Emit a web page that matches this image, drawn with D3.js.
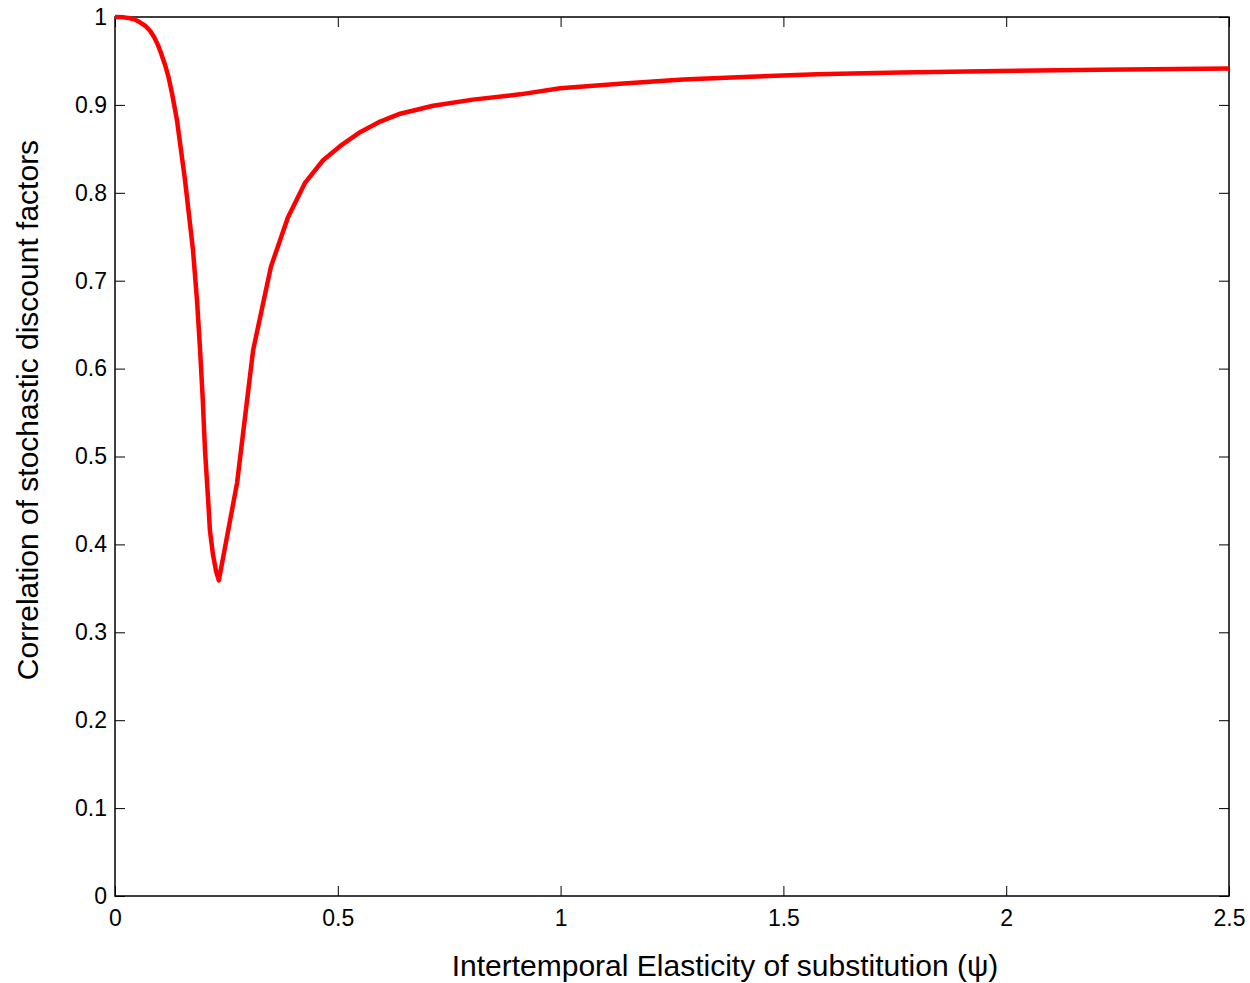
<!DOCTYPE html>
<html>
<head>
<meta charset="utf-8">
<script src="https://cdn.jsdelivr.net/npm/d3@7"></script>
<style>
  html, body { margin: 0; padding: 0; background: #fff; }
  svg { display: block; font-family: "Liberation Sans", Arial, sans-serif; }
</style>
</head>
<body>
<div id="chart"></div>
<script>
// values
const psi = [0, 0.02, 0.034, 0.045, 0.056, 0.068, 0.079, 0.088, 0.0965, 0.104, 0.112, 0.120, 0.128,
  0.139, 0.148, 0.157, 0.166, 0.175, 0.184, 0.191, 0.197, 0.202, 0.209, 0.213, 0.220, 0.227,
  0.233, 0.274, 0.310, 0.350, 0.388, 0.426, 0.467, 0.505, 0.550, 0.595, 0.640, 0.714, 0.803,
  0.909, 0.999, 1.133, 1.275, 1.425, 1.575, 1.762, 1.986, 2.21, 2.5];
const corr = [1.0, 0.9996, 0.9985, 0.997, 0.994, 0.990, 0.984, 0.977, 0.968, 0.958, 0.946, 0.932, 0.913,
  0.883, 0.849, 0.815, 0.775, 0.735, 0.678, 0.621, 0.564, 0.507, 0.451, 0.416, 0.388, 0.369,
  0.359, 0.470, 0.621, 0.716, 0.772, 0.811, 0.837, 0.853, 0.869, 0.881, 0.890, 0.899, 0.906,
  0.912, 0.919, 0.924, 0.929, 0.932, 0.935, 0.937, 0.9386, 0.940, 0.9414];
const xTicks = [0, 0.5, 1, 1.5, 2, 2.5];
const yTicks = [0, 0.1, 0.2, 0.3, 0.4, 0.5, 0.6, 0.7, 0.8, 0.9, 1];
const xLabel = "Intertemporal Elasticity of substitution (\u03C8)";
const yLabel = "Correlation of stochastic discount factors";

const width = 1250, height = 983;
const margin = { left: 115, top: 17, right: 21, bottom: 87 };
const innerW = width - margin.left - margin.right;
const innerH = height - margin.top - margin.bottom;
const tickLen = 10;
const tickFont = 23;

const x = d3.scaleLinear().domain([0, 2.5]).range([margin.left, margin.left + innerW]);
const y = d3.scaleLinear().domain([0, 1]).range([margin.top + innerH, margin.top]);

const svg = d3.create("svg")
  .attr("width", width)
  .attr("height", height);

const fmt = d => d3.format("~g")(d);

// bottom axis, ticks pointing inward
svg.append("g")
  .attr("transform", `translate(0,${margin.top + innerH})`)
  .call(d3.axisBottom(x).tickValues(xTicks).tickFormat(fmt).tickSizeInner(-tickLen).tickSizeOuter(0).tickPadding(14))
  .call(g => g.selectAll("text").attr("font-size", tickFont).attr("fill", "#000").attr("font-family", "Liberation Sans, Arial, sans-serif"));

// top axis, ticks only
svg.append("g")
  .attr("transform", `translate(0,${margin.top})`)
  .call(d3.axisTop(x).tickValues(xTicks).tickFormat("").tickSizeInner(-tickLen).tickSizeOuter(0));

// left axis
svg.append("g")
  .attr("transform", `translate(${margin.left},0)`)
  .call(d3.axisLeft(y).tickValues(yTicks).tickFormat(fmt).tickSizeInner(-tickLen).tickSizeOuter(0).tickPadding(8))
  .call(g => g.selectAll("text").attr("font-size", tickFont).attr("fill", "#000").attr("font-family", "Liberation Sans, Arial, sans-serif"));

// right axis, ticks only
svg.append("g")
  .attr("transform", `translate(${margin.left + innerW},0)`)
  .call(d3.axisRight(y).tickValues(yTicks).tickFormat("").tickSizeInner(-tickLen).tickSizeOuter(0));

svg.selectAll(".domain").remove();
svg.selectAll(".tick line").attr("stroke", "#000").attr("stroke-width", 1);

// box
svg.append("rect")
  .attr("x", margin.left)
  .attr("y", margin.top)
  .attr("width", innerW)
  .attr("height", innerH)
  .attr("fill", "none")
  .attr("stroke", "#000")
  .attr("stroke-width", 1.5);

// the curve
const line = d3.line()
  .x((d, i) => x(psi[i]))
  .y(d => y(d));

svg.append("path")
  .datum(corr)
  .attr("d", line)
  .attr("fill", "none")
  .attr("stroke", "#ff0000")
  .attr("stroke-width", 4.5)
  .attr("stroke-linejoin", "round");

// axis labels
svg.append("text")
  .attr("x", 725)
  .attr("y", 976)
  .attr("text-anchor", "middle")
  .attr("font-size", 30)
  .text(xLabel);

svg.append("text")
  .attr("transform", `translate(38,410) rotate(-90)`)
  .attr("text-anchor", "middle")
  .attr("font-size", 30)
  .text(yLabel);

d3.select("#chart").node().appendChild(svg.node());
</script>
</body>
</html>
